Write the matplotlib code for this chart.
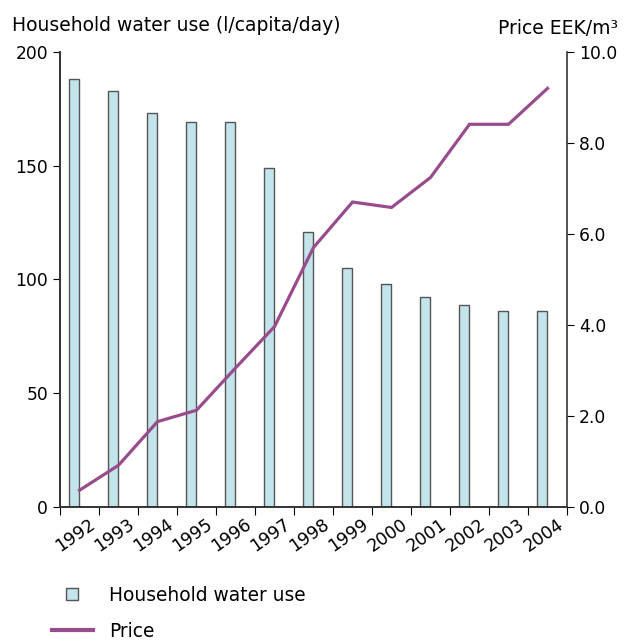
# Household water use vs. price, 1992-2004
import matplotlib
matplotlib.use("Agg")
import matplotlib.pyplot as plt
import matplotlib.transforms as mtransforms
from matplotlib.lines import Line2D
import numpy as np

years = ["1992", "1993", "1994", "1995", "1996", "1997", "1998",
         "1999", "2000", "2001", "2002", "2003", "2004"]
water_use = [188, 183, 173, 169, 169, 149, 121, 105, 98, 92, 88.6, 86.2, 86.2]
price = [0.36, 0.91, 1.87, 2.12, 3.05, 3.96, 5.70, 6.70, 6.58, 7.24, 8.41, 8.41, 9.20]

bar_color = "#c2e4ea"
bar_edge = "#555555"
line_color = "#994c8c"

plt.rcParams["font.family"] = ["DejaVu Sans"]
plt.rcParams["font.size"] = 12.3

fig = plt.figure(figsize=(6.24, 6.42), dpi=100)
ax = fig.add_axes([0.0962, 0.2109, 0.8125, 0.7081])
ax2 = ax.twinx()

x = np.arange(len(years))
ax.bar(x - 0.135, water_use, width=0.25, color=bar_color,
       edgecolor=bar_edge, linewidth=1.0)
ax2.plot(x, price, color=line_color, linewidth=2.3, solid_joinstyle="miter")

ax.set_xlim(-0.5, len(years) - 0.5)
ax.set_ylim(0, 200)
ax2.set_ylim(0, 10)
ax.set_yticks([0, 50, 100, 150, 200])
ax2.set_yticks([0, 2, 4, 6, 8, 10])
ax2.set_yticklabels([f"{v:.1f}" for v in [0, 2, 4, 6, 8, 10]])

# Kategoriegrenzen als Ticks, Jahreszahlen mittig darunter
ax.set_xticks(np.arange(len(years) + 1) - 0.5)
ax.set_xticklabels([])
ax.set_xticks(x, minor=True)
ax.set_xticklabels(years, minor=True, rotation=35, ha="right",
                   rotation_mode="anchor", fontsize=12.5)
ax.tick_params(axis="x", which="minor", length=0, pad=6)
ax.tick_params(axis="x", which="major", length=6, direction="out")
ax.tick_params(axis="y", length=5, direction="out")
ax2.tick_params(axis="y", length=5, direction="out")
shift = mtransforms.ScaledTranslation(0.09, 0, fig.dpi_scale_trans)
for lbl in ax.get_xticklabels(minor=True):
    lbl.set_transform(lbl.get_transform() + shift)

for a in (ax, ax2):
    a.spines["top"].set_visible(False)
    for s in ("left", "right", "bottom"):
        a.spines[s].set_color("#333333")
        a.spines[s].set_linewidth(1.2)
ax.spines["right"].set_visible(False)

fig.text(0.019, 0.960, "Household water use (l/capita/day)", ha="left", va="center",
         fontsize=13.5)
fig.text(0.99, 0.956, "Price EEK/m³", ha="right", va="center", fontsize=13.5)

handles = [
    Line2D([], [], marker="s", linestyle="none", markersize=9,
           markerfacecolor=bar_color, markeredgecolor=bar_edge, markeredgewidth=1.0),
    Line2D([], [], color=line_color, linewidth=3),
]
fig.legend(handles, ["Household water use", "Price"], loc="upper left",
           bbox_to_anchor=(0.083, 0.088), frameon=False, fontsize=13.4,
           handlelength=2.2, handletextpad=0.9, labelspacing=0.92,
           borderaxespad=0, borderpad=0)

fig.savefig("out.png", dpi=100)
